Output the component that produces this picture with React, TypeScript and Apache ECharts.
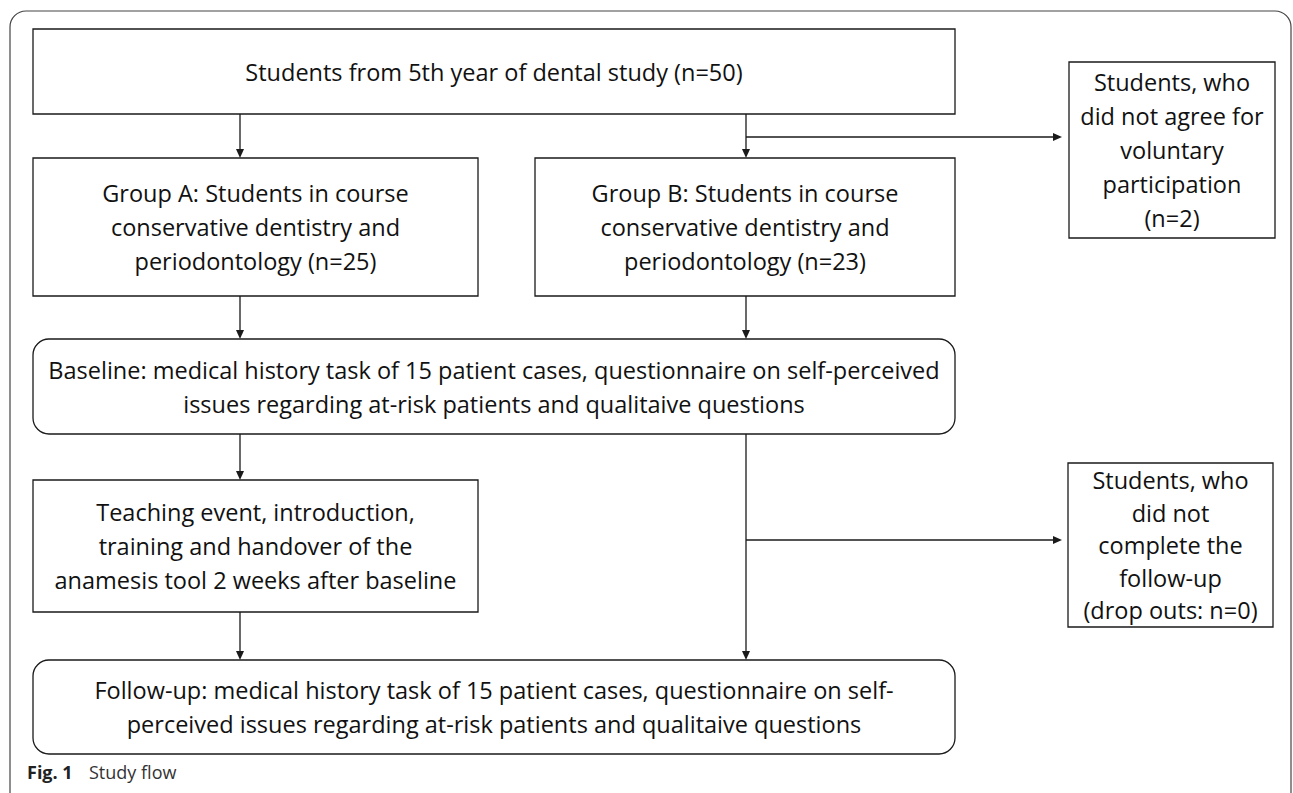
import React, { useEffect, useRef } from "react";
import * as echarts from "echarts";

const topText = ["Students from 5th year of dental study (n=50)"];
const groupAText = ["Group A: Students in course", "conservative dentistry and", "periodontology (n=25)"];
const groupBText = ["Group B: Students in course", "conservative dentistry and", "periodontology (n=23)"];
const excludedText = ["Students, who", "did not agree for", "voluntary", "participation", "(n=2)"];
const baselineText = [
  "Baseline: medical history task of 15 patient cases, questionnaire on self-perceived",
  "issues regarding at-risk patients and qualitaive questions",
];
const teachingText = ["Teaching event, introduction,", "training and handover of the", "anamesis tool 2 weeks after baseline"];
const dropoutText = ["Students, who", "did not", "complete the", "follow-up", "(drop outs: n=0)"];
const followupText = [
  "Follow-up: medical history task of 15 patient cases, questionnaire on self-",
  "perceived issues regarding at-risk patients and qualitaive questions",
];
const captionBold = "Fig. 1";
const captionText = "Study flow";

const FONT = "'Open Sans', sans-serif";
const LINE = "#1a1a1a";

type Box = { x: number; y: number; w: number; h: number; r?: number; lines: string[] };

const boxes: Box[] = [
  { x: 33, y: 29, w: 922, h: 85, lines: topText },
  { x: 33, y: 158, w: 445, h: 138, lines: groupAText },
  { x: 535, y: 158, w: 420, h: 138, lines: groupBText },
  { x: 1069, y: 62, w: 206, h: 176, lines: excludedText },
  { x: 33, y: 339, w: 922, h: 95, r: 16, lines: baselineText },
  { x: 33, y: 480, w: 445, h: 132, lines: teachingText },
  { x: 1068, y: 463, w: 205, h: 164, lines: dropoutText },
  { x: 33, y: 660, w: 922, h: 94, r: 16, lines: followupText },
];

function boxEls(b: Box, lh: number) {
  const els: any[] = [
    {
      type: "rect",
      shape: { x: b.x, y: b.y, width: b.w, height: b.h, r: b.r || 0 },
      style: { fill: "#fff", stroke: LINE, lineWidth: 1.3 },
    },
  ];
  const n = b.lines.length;
  const cy = b.y + b.h / 2;
  b.lines.forEach((t, i) => {
    els.push({
      type: "text",
      x: b.x + b.w / 2,
      y: cy + (i - (n - 1) / 2) * lh,
      style: {
        text: t,
        fill: "#111",
        font: `23.5px ${FONT}`,
        textAlign: "center",
        textVerticalAlign: "middle",
      },
    });
  });
  return els;
}

function vArrow(x: number, y1: number, y2: number) {
  return [
    { type: "line", shape: { x1: x, y1, x2: x, y2: y2 - 8 }, style: { stroke: LINE, lineWidth: 1.3 } },
    { type: "polygon", shape: { points: [[x - 4, y2 - 9], [x + 4, y2 - 9], [x, y2]] }, style: { fill: LINE } },
  ];
}
function hArrow(y: number, x1: number, x2: number) {
  return [
    { type: "line", shape: { x1, y1: y, x2: x2 - 8, y2: y }, style: { stroke: LINE, lineWidth: 1.3 } },
    { type: "polygon", shape: { points: [[x2 - 9, y - 4], [x2 - 9, y + 4], [x2, y]] }, style: { fill: LINE } },
  ];
}

export default function App() {
  const ref = useRef<HTMLDivElement>(null);
  useEffect(() => {
    if (!ref.current) return;
    const chart = echarts.init(ref.current, null, { renderer: "svg" });
    const els: any[] = [];
    // outer frame (open at bottom)
    els.push({
      type: "rect",
      shape: { x: 10, y: 11, width: 1281, height: 800, r: 16 },
      style: { fill: "#fff", stroke: "#444", lineWidth: 1.2 },
    });
    const lhs = [0, 34, 34, 34, 34, 34, 32.5, 34];
    boxes.forEach((b, i) => els.push(...boxEls(b, lhs[i])));
    // arrows
    els.push(...vArrow(240, 114, 158));
    els.push(...vArrow(746, 114, 158));
    els.push(...hArrow(137, 746, 1062));
    els.push(...vArrow(240, 296, 339));
    els.push(...vArrow(746, 296, 339));
    els.push(...vArrow(240, 434, 480));
    els.push(...vArrow(746, 434, 660));
    els.push(...hArrow(540, 746, 1062));
    els.push(...vArrow(240, 612, 660));
    // caption
    els.push({
      type: "text",
      x: 27,
      y: 772,
      style: { text: captionBold, font: `bold 18px ${FONT}`, fill: "#222", textVerticalAlign: "middle" },
    });
    els.push({
      type: "text",
      x: 89,
      y: 772,
      style: { text: captionText, font: `18px ${FONT}`, fill: "#333", textVerticalAlign: "middle" },
    });
    chart.setOption({ animation: false, graphic: { elements: els } });
    return () => chart.dispose();
  }, []);
  return <div ref={ref} style={{ width: 1293, height: 793, position: "absolute", left: 0, top: 0 }} />;
}
